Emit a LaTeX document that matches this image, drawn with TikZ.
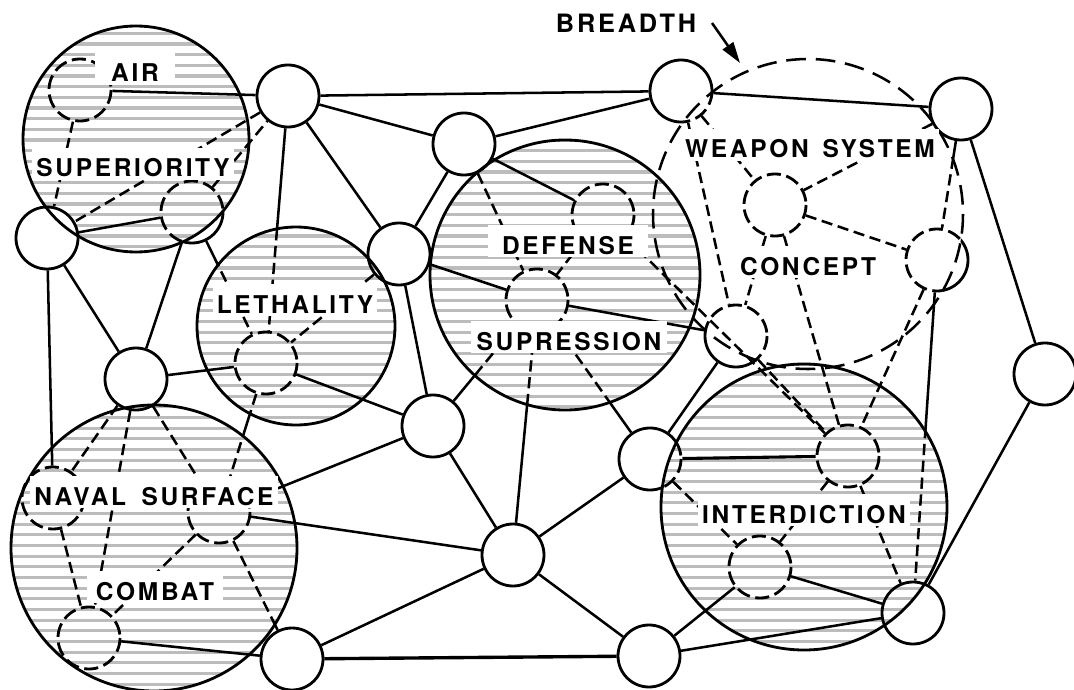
\documentclass[tikz,border=0pt]{standalone}
\usepackage{fontspec}
\newfontfamily\labelfont[LetterSpace=11]{TeX Gyre Heros}
\usetikzlibrary{arrows.meta}
\definecolor{hatchgray}{RGB}{188,188,188}

% frame around the whole drawing, used to cut holes for "outside a disc" clipping
\newcommand\regionframe{(-60,-60) -- (1140,-60) -- (1140,760) -- (-60,760) -- cycle}
% connector: dashed inside the disc (#3,#4) of radius #5, solid outside it
\newcommand\splitedge[5]{%
  \begin{scope}
    \clip (#3,#4) circle (#5);
    \draw[link,dlink] (#1) -- (#2);
  \end{scope}
  \begin{scope}
    \clip \regionframe (#3+#5,#4) arc[start angle=0,end angle=-360,radius=#5];
    \draw[link] (#1) -- (#2);
  \end{scope}}
% ring of a small node: dashed inside the disc (#2,#3) of radius #4, solid outside it
\newcommand\splitring[4]{%
  \begin{scope}
    \clip (#2,#3) circle (#4);
    \draw[ring,dring] (#1.center) circle (31);
  \end{scope}
  \begin{scope}
    \clip \regionframe (#2+#4,#3) arc[start angle=0,end angle=-360,radius=#4];
    \draw[ring] (#1.center) circle (31);
  \end{scope}}

\tikzset{
  ring/.style={line width=2pt},
  dring/.style={dash pattern=on 10pt off 4pt},
  link/.style={line width=1.8pt},
  dlink/.style={dash pattern=on 8pt off 4pt},
  spot/.style={circle,minimum size=1.55cm,inner sep=0pt,outer sep=1pt},
  cluster/.style={line width=2pt},
  hatchline/.style={hatchgray,line width=2.2pt},
  tag/.style={fill=white,inner xsep=3pt,inner ysep=2pt,text height=18.5pt,text depth=0pt,
    font=\labelfont\bfseries\fontsize{17.4}{20}\selectfont},
}

\begin{document}
\begin{tikzpicture}[x=0.025cm,y=-0.025cm]
\useasboundingbox (0,0) rectangle (1074,690);

% cluster centres
\coordinate (cAir) at (136,139);
\coordinate (cLet) at (296,326);
\coordinate (cDef) at (565,275);
\coordinate (cNsc) at (154,548);
\coordinate (cInt) at (804,507);
\coordinate (cBr)  at (808,214);

% grey line shading of the clusters
\begin{scope}
  \clip (cAir) circle (113) (cLet) circle (99) (cDef) circle (135)
        (cNsc) circle (143) (cInt) circle (143);
  \foreach \k in {-1,...,62}
    \draw[hatchline] (0,33.3+10.67*\k) -- (1074,33.3+10.67*\k);
\end{scope}

% nodes
\node[spot] (S1)  at (288,96)  {};
\node[spot] (S2)  at (464,144) {};
\node[spot] (S3)  at (681,91)  {};
\node[spot] (S4)  at (961,109) {};
\node[spot] (S5)  at (47,238)  {};
\node[spot] (S6)  at (399,254) {};
\node[spot] (S7)  at (136,379) {};
\node[spot] (S8)  at (433,426) {};
\node[spot] (S9)  at (650,459) {};
\node[spot] (S10) at (513,555) {};
\node[spot] (S11) at (1045,374) {};
\node[spot] (S12) at (913,613) {};
\node[spot] (S13) at (292,659) {};
\node[spot] (S14) at (649,656) {};
\node[spot] (B5)  at (736,336) {};
\node[spot] (A1)  at (80,90)   {};
\node[spot] (A2)  at (192,212) {};
\node[spot] (L1)  at (266,363) {};
\node[spot] (D1)  at (603,215) {};
\node[spot] (D2)  at (537,300) {};
\node[spot] (W1)  at (775,205) {};
\node[spot] (W2)  at (937,260) {};
\node[spot] (I1)  at (848,456) {};
\node[spot] (I2)  at (760,567) {};
\node[spot] (N1)  at (53,498)  {};
\node[spot] (N2)  at (219,512) {};
\node[spot] (N3)  at (89,638)  {};

\fill[white] (S5.center) circle (31);

% cluster outlines
\foreach \c/\r in {cAir/113,cLet/99,cDef/135,cNsc/143,cInt/143}
  \draw[cluster] (\c) circle (\r);

% solid connectors
\foreach \a/\b in {A1/S1,S1/S3,S1/S2,S1/S6,S5/A2,A2/S7,S5/S7,S5/N1,S7/L1,L1/S8,
  S6/S2,S6/S8,S6/D2,S2/D1,S2/S3,S3/S4,S4/S11,D2/B5,N2/S10,N2/S8,N3/S13,
  S13/S10,S10/S8,S10/S9,S10/S14,S9/B5,I2/S12,I2/S14,S14/S12,S12/S11}
  \draw[link] (\a) -- (\b);
\draw[line width=2.4pt] (S13) -- (S14);
\draw[line width=2.2pt] (S9) -- (I1);

% dashed connectors
\foreach \a/\b in {A1/S5,S1/S5,A2/S1,N1/N3,N2/N3,D1/D2,S3/B5,S3/W1,S4/W1,W1/W2,
  W1/B5,W1/I1,W2/I1,B5/I1,S9/I2,I1/I2,I1/S12,S7/N1,S7/N3,S7/N2,D1/I1}
  \draw[link,dlink] (\a) -- (\b);

% connectors that turn dashed where they enter a cluster
\splitedge{S1}{L1}{296}{326}{99}
\splitedge{A2}{L1}{296}{326}{99}
\splitedge{S6}{L1}{296}{326}{99}
\begin{scope}
  \clip (cLet) circle (99) (cNsc) circle (143);
  \draw[link,dlink] (L1) -- (N2);
\end{scope}
\begin{scope}
  \clip \regionframe (296+99,326) arc[start angle=0,end angle=-360,radius=99]
        (154+143,548) arc[start angle=0,end angle=-360,radius=143];
  \draw[link] (L1) -- (N2);
\end{scope}
\splitedge{N2}{S13}{154}{548}{143}
\splitedge{S10}{D2}{565}{275}{135}
\splitedge{S8}{D2}{565}{275}{135}
\splitedge{S9}{D2}{565}{275}{135}
\splitedge{S2}{D2}{565}{275}{135}
\splitedge{S4}{W2}{808}{214}{155}
\splitedge{W2}{S12}{804}{507}{143}

% node rings
\foreach \n in {S1,S2,S4,S5,S6,S7,S8,S10,S11,S12,S13,S14}
  \draw[ring] (\n.center) circle (31);
\foreach \n in {A1,L1,D1,D2,W1,I1,I2,N1,N2,N3}
  \draw[ring,dring] (\n.center) circle (31);
\splitring{S3}{808}{214}{155}
\splitring{B5}{808}{214}{155}
\splitring{W2}{808}{214}{155}
\splitring{S9}{804}{507}{143}
\splitring{A2}{136}{139}{113}

% breadth of the weapon system concept
\draw[link,dash pattern=on 14pt off 7pt] (cBr) circle (155);

% labels
\node[tag,anchor=base,minimum width=2cm] (tAir) at (135,82) {AIR};
\node[tag,anchor=base] (tSup) at (133,177) {SUPERIORITY};
\node[tag,anchor=base] (tLet) at (295,313) {LETHALITY};
\node[tag,anchor=base,minimum width=3.98cm] (tDef) at (568,254) {DEFENSE};
\node[tag,anchor=base,minimum width=4.88cm] (tSupr) at (569,350) {SUPRESSION};
\node[tag,anchor=base] (tWea) at (810,158) {WEAPON\hspace{10pt}SYSTEM};
\node[tag,anchor=base] (tCon) at (808,275) {CONCEPT};
\node[tag,anchor=base] (tNav) at (154,505) {NAVAL\hspace{11pt}SURFACE};
\node[tag,anchor=base,minimum width=3.42cm] (tCom) at (155,600) {COMBAT};
\node[tag,anchor=base] (tInt) at (804,523) {INTERDICTION};

\node[anchor=base,inner sep=0pt,font=\labelfont\bfseries\fontsize{18}{20}\selectfont]
  (tBr) at (626,33) {BREADTH};
\coordinate (brTail) at (712,23);
\coordinate (brTip) at (740,63);
\draw[link,-{Triangle[length=15pt,width=9pt]}] (brTail) -- (brTip);
\end{tikzpicture}
\end{document}
